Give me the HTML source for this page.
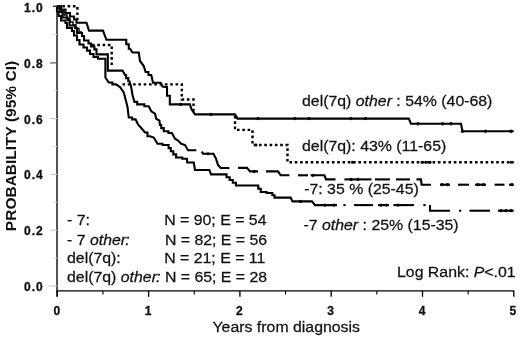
<!DOCTYPE html>
<html><head><meta charset="utf-8"><title>Kaplan-Meier</title>
<style>html,body{margin:0;padding:0;background:#fff}body{width:520px;height:337px;overflow:hidden}</style></head>
<body>
<svg width="520" height="337" viewBox="0 0 520 337" style="display:block">
<rect width="520" height="337" fill="#fff"/>
<g stroke="#000" stroke-width="1.35" fill="none">
<path d="M57 6 V296.5"/>
<path d="M56.6 290.9 H514.3"/>
<path d="M57.30 290.9 V296.8"/>
<path d="M148.60 290.9 V296.8"/>
<path d="M239.90 290.9 V296.8"/>
<path d="M331.20 290.9 V296.8"/>
<path d="M422.50 290.9 V296.8"/>
<path d="M513.80 290.9 V296.8"/>
<path d="M102.95 290.9 V294.4" stroke-width="1.1"/>
<path d="M194.25 290.9 V294.4" stroke-width="1.1"/>
<path d="M285.55 290.9 V294.4" stroke-width="1.1"/>
<path d="M376.85 290.9 V294.4" stroke-width="1.1"/>
<path d="M468.15 290.9 V294.4" stroke-width="1.1"/>
</g>
<path d="M53 6.2 H57" stroke="#111" stroke-width="1.2"/>
<path d="M50.2 62.9 H57" stroke="#555" stroke-width="1.2"/>
<path d="M50.2 118.6 H57" stroke="#ccc" stroke-width="1.2"/>
<path d="M50.2 174.4 H57" stroke="#ccc" stroke-width="1.2"/>
<path d="M50.2 230.2 H57" stroke="#ccc" stroke-width="1.2"/>
<path d="M48.5 286.0 H57" stroke="#ccc" stroke-width="1.2"/>
<path d="M53 34.5 H57" stroke="#ddd" stroke-width="1"/>
<path d="M53 90.7 H57" stroke="#ddd" stroke-width="1"/>
<path d="M53 146.5 H57" stroke="#ddd" stroke-width="1"/>
<path d="M53 202.3 H57" stroke="#ddd" stroke-width="1"/>
<path d="M53 258.1 H57" stroke="#ddd" stroke-width="1"/>
<g font-family="'Liberation Sans', Arial, sans-serif" font-weight="bold" font-size="12" fill="#111" letter-spacing="1" stroke="#111" stroke-width="0.3">
<text x="24" y="12.2">1.0</text>
<text x="24" y="67.9">0.8</text>
<text x="24" y="123.6">0.6</text>
<text x="24" y="179.4">0.4</text>
<text x="24" y="235.2">0.2</text>
<text x="24" y="291.0">0.0</text>
</g>
<g font-family="'Liberation Sans', Arial, sans-serif" font-weight="bold" font-size="12" fill="#111" text-anchor="middle" stroke="#111" stroke-width="0.3">
<text x="56.8" y="314.6">0</text>
<text x="148.1" y="314.6">1</text>
<text x="239.4" y="314.6">2</text>
<text x="330.7" y="314.6">3</text>
<text x="422.0" y="314.6">4</text>
<text x="512.8" y="314.6">5</text>
</g>
<text transform="translate(15.5 146) rotate(-90)" text-anchor="middle" font-family="'Liberation Sans', Arial, sans-serif" font-weight="bold" font-size="15.5" fill="#111">PROBABILITY (95% CI)</text>
<g font-family="'Liberation Sans', Arial, sans-serif" font-size="15.5" stroke="#111" stroke-width="0.25" fill="#111">
<text transform="translate(212.5 331.7) scale(1.024 1)">Years from diagnosis</text>
<text transform="translate(397 277.3) scale(1.024 1)">Log Rank: <tspan font-style="italic">P</tspan>&lt;.01</text>
<text transform="translate(302 106) scale(1.024 1)">del(7q) <tspan font-style="italic">other</tspan> : 54% (40-68)</text>
<text transform="translate(302 151.1) scale(1.024 1)">del(7q): 43% (11-65)</text>
<text transform="translate(304.2 194.4) scale(1.024 1)">-7: 35 % (25-45)</text>
<text transform="translate(303.5 230.2) scale(1.024 1)">-7 <tspan font-style="italic">other</tspan> : 25% (15-35)</text>
<text transform="translate(67 225.2) scale(1.024 1)">- 7:</text>
<text transform="translate(164.2 225.2) scale(1.024 1)">N = 90; E = 54</text>
<text transform="translate(67 244.5) scale(1.024 1)">- 7 <tspan font-style="italic">other<tspan dx="-0.8">:</tspan></tspan></text>
<text transform="translate(164.9 244.5) scale(1.024 1)">N = 82; E = 56</text>
<text transform="translate(67 263.1) scale(1.024 1)">del(7q):</text>
<text transform="translate(164.2 263.1) scale(1.024 1)">N = 21; E = 11</text>
<text transform="translate(67 281.9) scale(1.024 1)">del(7q) <tspan font-style="italic">other<tspan dx="-0.8">:</tspan></tspan></text>
<text transform="translate(164.9 281.9) scale(1.024 1)">N = 65; E = 28</text>
</g>
<g stroke="#000" stroke-width="2.1" fill="none" stroke-linejoin="miter">
<polyline points="57.00,6.00 61.00,6.00 61.00,9.50 65.50,9.50 65.50,13.00 70.00,13.00 70.00,16.50 74.00,16.50 74.00,19.50 76.50,19.50 76.50,22.70 86.50,22.70 89.00,30.60 103.00,30.60 106.40,39.80 125.00,39.80 126.25,39.80 126.25,44.27 128.75,44.27 128.75,48.75 130.00,48.75 132.50,52.50 138.75,52.50 140.00,61.00 143.75,66.00 145.60,72.00 148.43,72.00 148.43,75.00 151.25,75.00 153.00,82.70 160.60,82.70 162.50,86.50 165.60,87.00 167.01,87.00 167.01,95.70 169.84,95.70 169.84,104.40 171.25,104.40 190.00,104.40 191.25,108.75 195.00,114.40 235.00,114.40 237.50,118.60 408.75,118.60 411.00,123.75 461.00,123.75 462.50,131.25 513.75,131.25"/>
<polyline points="58,8 61,8 61,11 64,11 64,15 67,15 67,18.5 70,18.5 70,22 73,22 73,25 76,25 76,28.5 79,28.5 79,32 82,32" stroke-width="1.4"/>
<polyline points="57.00,6.00 57.00,8.50 60.00,8.50 60.00,12.00 62.50,12.00 62.50,17.50 67.50,17.50 67.50,20.00 69.50,20.00 69.50,25.50 75.00,25.50 75.00,28.00 77.00,28.00 77.00,33.00 82.00,33.00 82.00,36.00 84.00,36.00 84.00,40.50 88.50,40.50 88.50,43.50 91.00,43.50 91.00,46.50 94.40,46.50 94.40,49.40 96.50,49.40 96.50,54.40 107.80,54.40 107.80,70.60 122.50,70.60 125.00,75.00 126.10,75.00 126.10,78.12 128.30,78.12 128.30,81.25 129.40,81.25 131.00,86.00 132.50,95.00 134.40,101.90 137.20,101.90 137.20,104.40 140.00,104.40 144.38,104.40 144.38,106.25 148.75,106.25 151.25,111.25 155.00,113.75 156.25,118.75 159.40,120.60 160.00,125.00 161.25,125.00 161.25,128.12 163.75,128.12 163.75,131.25 165.00,131.25 168.45,131.25 168.45,133.00 171.90,133.00 175.00,138.75 178.00,140.60 181.25,143.75 185.00,145.00 188.00,150.30 196.30,150.30"/>
<polyline points="201.90,151.50 203.00,153.75 213.50,153.75 216.00,158.75 218.00,165.00 220.60,168.00 229.40,168.00"/>
<polyline points="238.00,167.90 247.00,167.90 250.00,171.40 258.00,171.40"/>
<polyline points="266.00,171.40 278.00,171.40 280.60,175.30 289.40,175.30"/>
<polyline points="298.00,175.30 308.00,175.30"/>
<polyline points="310.60,175.30 324.40,175.30 326.00,179.40 335.50,179.40"/>
<polyline points="344.40,179.40 371.50,179.40"/>
<polyline points="375.00,179.40 390.00,179.40"/>
<polyline points="396.00,179.40 410.00,179.40"/>
<polyline points="416.50,179.40 421.00,179.40 421.60,184.70 431.00,184.70"/>
<polyline points="440.00,184.70 450.00,184.70"/>
<polyline points="458.00,184.70 469.00,184.70"/>
<polyline points="475.00,184.70 486.00,184.70"/>
<polyline points="494.60,184.70 504.50,184.70"/>
<polyline points="509.00,184.70 513.70,184.70"/>
<polyline points="57.00,6.00 57.00,11.50 58.50,11.50 58.50,16.00 61.00,16.00 61.00,20.50 65.50,20.50 65.50,23.00 67.00,23.00 67.00,28.00 72.00,28.00 72.00,31.00 74.00,31.00 74.00,35.50 77.00,35.50 77.00,40.00 79.50,40.00 79.50,44.50 83.50,44.50 83.50,47.50 87.00,47.50 87.00,50.60 90.00,50.60 90.00,54.00 93.50,54.00 93.50,57.00 98.00,57.00 98.00,58.75 105.40,58.75 105.40,77.50 108.75,82.50 112.38,82.50 112.38,84.40 116.00,84.40 120.00,87.00 123.75,92.50 126.00,101.00 127.50,107.00 128.75,117.50 132.18,117.50 132.18,119.40 135.60,119.40 138.00,124.40 141.90,128.75 145.00,132.50 147.50,132.50 147.50,136.25 150.00,136.25 153.75,137.50 157.50,143.75 162.50,143.75 162.50,145.00 167.50,145.00 168.60,145.00 168.60,148.12 170.80,148.12 170.80,151.25 171.90,151.25 173.30,151.25 173.30,154.38 176.10,154.38 176.10,157.50 177.50,157.50 182.25,157.50 182.25,158.75 187.00,158.75 187.20,162.50 193.75,162.50 195.00,170.00 209.40,170.00 211.00,174.40 225.00,174.40 226.56,174.40 226.56,177.18 229.69,177.18 229.69,179.95 232.81,179.95 232.81,182.72 235.94,182.72 235.94,185.50 237.50,185.50 257.00,185.50 258.25,185.50 258.25,188.75 260.75,188.75 260.75,192.00 262.00,192.00 266.62,192.00 266.62,193.00 271.25,193.00 272.34,193.00 272.34,195.30 274.51,195.30 274.51,197.60 275.60,197.60 290.60,197.60 292.50,201.40 312.00,201.40 315.00,205.10 337.00,205.10"/>
<polyline points="343.40,205.10 345.60,205.10"/>
<polyline points="354.00,205.10 373.00,205.10"/>
<polyline points="378.00,205.10 389.00,205.10"/>
<polyline points="393.50,205.10 414.00,205.10"/>
<polyline points="423.40,205.10 425.60,205.10"/>
<polyline points="430.00,205.00 430.00,210.70 450.00,210.70"/>
<polyline points="459.00,210.70 461.20,210.70"/>
<polyline points="469.50,210.70 490.00,210.70"/>
<polyline points="498.00,210.70 513.70,210.70"/>
<polyline points="57.00,6.30 77.40,6.30 77.40,21.00" stroke-dasharray="2.6 2.7" stroke-width="2.4"/>
<polyline points="92.00,45.00 111.70,45.00 111.70,67.00" stroke-dasharray="2.6 2.7" stroke-width="2.4"/>
<polyline points="122.50,84.40 181.80,84.40 181.80,99.50 193.50,99.50 193.50,113.00" stroke-dasharray="2.6 2.7" stroke-width="2.4"/>
<polyline points="235.00,116.00 235.00,129.90 252.50,129.90 252.50,145.00 287.50,145.00 287.50,162.20 513.75,162.20" stroke-dasharray="2.6 2.7" stroke-width="2.4"/>
</g>
<g fill="#000">
<circle cx="180.6" cy="104.40" r="1.7"/>
<circle cx="211" cy="114.40" r="1.7"/>
<circle cx="258" cy="118.60" r="1.7"/>
<circle cx="295" cy="118.60" r="1.7"/>
<circle cx="309" cy="118.60" r="1.7"/>
<circle cx="351" cy="118.60" r="1.7"/>
<circle cx="365.5" cy="118.60" r="1.7"/>
<circle cx="418" cy="123.75" r="1.7"/>
<circle cx="442.5" cy="123.75" r="1.7"/>
<circle cx="451" cy="123.75" r="1.7"/>
<circle cx="462.5" cy="131.25" r="1.7"/>
<circle cx="485.5" cy="131.25" r="1.7"/>
<circle cx="511" cy="131.25" r="1.7"/>
<circle cx="256" cy="145" r="1.5"/>
<circle cx="352.5" cy="162.2" r="1.5"/>
<circle cx="422" cy="162.2" r="1.5"/>
<circle cx="426" cy="162.2" r="1.5"/>
<circle cx="430" cy="162.2" r="1.5"/>
<circle cx="511" cy="162.2" r="1.5"/>
<circle cx="351" cy="179.4" r="1.6"/>
<circle cx="358" cy="179.4" r="1.6"/>
<circle cx="442" cy="184.7" r="1.6"/>
<circle cx="447.5" cy="184.7" r="1.6"/>
<circle cx="478" cy="184.7" r="1.6"/>
<circle cx="483.5" cy="184.7" r="1.6"/>
<circle cx="512" cy="184.7" r="1.6"/>
<circle cx="254" cy="171.4" r="1.6"/>
<circle cx="313" cy="175.3" r="1.6"/>
<circle cx="208" cy="153.75" r="1.6"/>
<circle cx="300.6" cy="201.4" r="1.6"/>
<circle cx="325" cy="205.1" r="1.6"/>
<circle cx="334" cy="205.1" r="1.6"/>
<circle cx="381" cy="205.1" r="1.6"/>
<circle cx="386.5" cy="205.1" r="1.6"/>
<circle cx="501" cy="210.7" r="1.6"/>
<circle cx="506" cy="210.7" r="1.6"/>
<circle cx="511" cy="210.7" r="1.6"/>
<circle cx="398" cy="205.1" r="1.6"/>
</g>
</svg>
</body></html>
